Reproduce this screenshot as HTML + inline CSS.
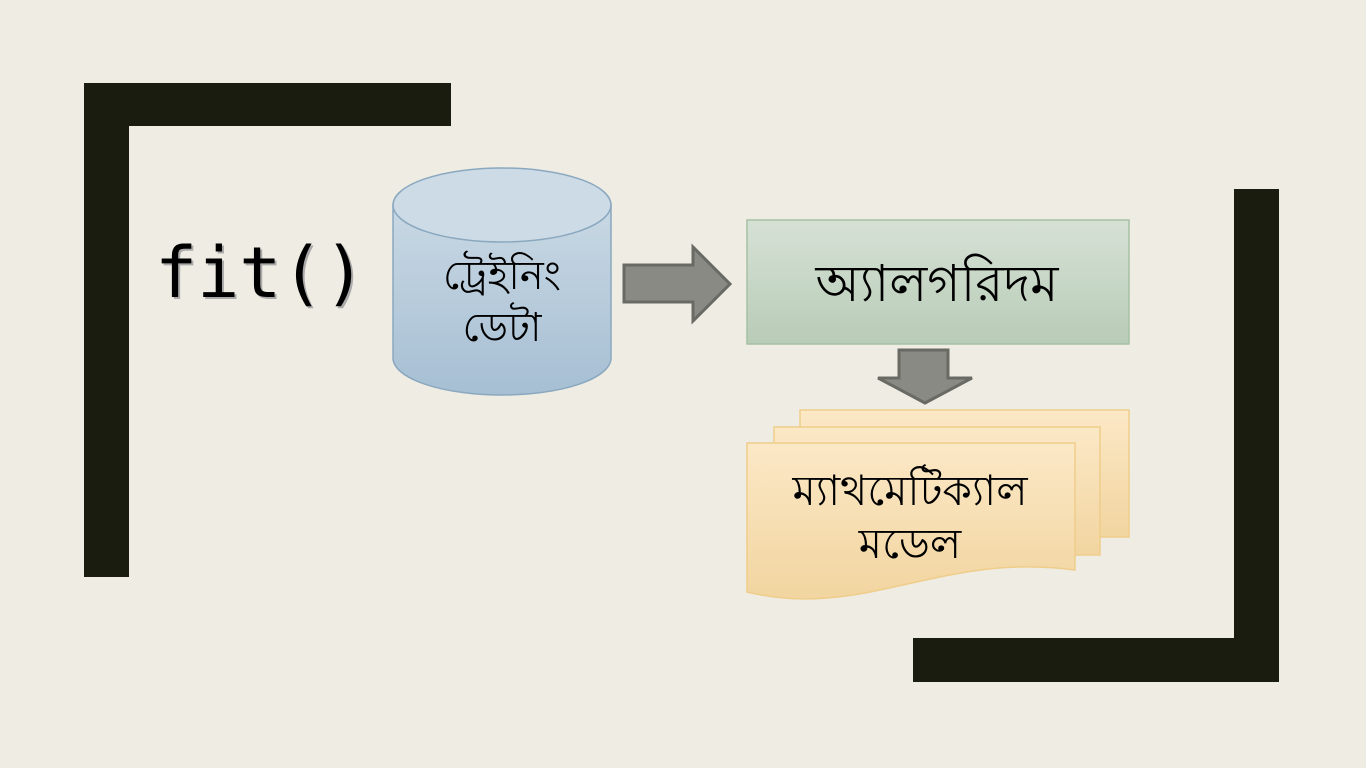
<!DOCTYPE html>
<html><head><meta charset="utf-8"><style>
html,body{margin:0;padding:0;background:#efece3;}
svg{display:block}
text{font-family:"Liberation Serif","DejaVu Serif",serif;fill:#000}
</style></head><body>
<svg width="1366" height="768" viewBox="0 0 1366 768" xmlns="http://www.w3.org/2000/svg">
<defs>
<linearGradient id="cyl" x1="0" y1="0" x2="0" y2="1"><stop offset="0" stop-color="#c9d8e4"/><stop offset="1" stop-color="#a6bfd3"/></linearGradient>
<linearGradient id="alg" x1="0" y1="0" x2="0" y2="1"><stop offset="0" stop-color="#d6e1d5"/><stop offset="1" stop-color="#b8ccb7"/></linearGradient>
<linearGradient id="doc" x1="0" y1="0" x2="0" y2="1"><stop offset="0" stop-color="#fbe8c6"/><stop offset="1" stop-color="#f2d5a0"/></linearGradient>
</defs>
<rect width="1366" height="768" fill="#efece3"/>
<rect x="84" y="83" width="45" height="494" fill="#1b1c10"/>
<rect x="84" y="83" width="367" height="43" fill="#1b1c10"/>
<rect x="1234" y="189" width="45" height="493" fill="#1b1c10"/>
<rect x="913" y="638" width="366" height="44" fill="#1b1c10"/>
<text x="157" y="299" style="font-family:'DejaVu Sans Mono','Liberation Mono',monospace;font-size:70px;fill:#aaa" >fit()</text>
<text x="155" y="297" style="font-family:'DejaVu Sans Mono','Liberation Mono',monospace;font-size:70px">fit()</text>
<path d="M393 205 L393 358 A109 37 0 0 0 611 358 L611 205 Z" fill="url(#cyl)" stroke="#8aa8bf" stroke-width="1.5"/>
<ellipse cx="502" cy="205" rx="109" ry="37" fill="#cddbe6" stroke="#8aa8bf" stroke-width="1.5"/>
<text x="502" y="289" text-anchor="middle" font-size="40">ট্রেইনিং</text>
<text x="502" y="341" text-anchor="middle" font-size="40">ডেটা</text>
<path d="M624 265 L693 265 L693 247 L730 284 L693 321 L693 302 L624 302 Z" fill="#8a8a84" stroke="#6a6a64" stroke-width="3"/>
<rect x="747" y="220" width="382" height="124" fill="url(#alg)" stroke="#a5c1a4" stroke-width="1.5"/>
<text x="937" y="301" text-anchor="middle" font-size="51">অ্যালগরিদম</text>
<path d="M899 350 L948 350 L948 378 L972 378 L925 403 L878 378 L899 378 Z" fill="#8a8a84" stroke="#6a6a64" stroke-width="3"/>
<rect x="800" y="410" width="329" height="127" fill="url(#doc)" stroke="#efcd8a" stroke-width="1.5"/>
<rect x="774" y="427" width="326" height="128" fill="url(#doc)" stroke="#efcd8a" stroke-width="1.5"/>
<path d="M747 443 L1075 443 L1075 570 C1000 560 950 575 880 590 C820 603 780 600 747 592 Z" fill="url(#doc)" stroke="#efcd8a" stroke-width="1.5"/>
<text x="910" y="505" text-anchor="middle" font-size="42">ম্যাথমেটিক্যাল</text>
<text x="910" y="558" text-anchor="middle" font-size="42">মডেল</text>
</svg>
</body></html>
